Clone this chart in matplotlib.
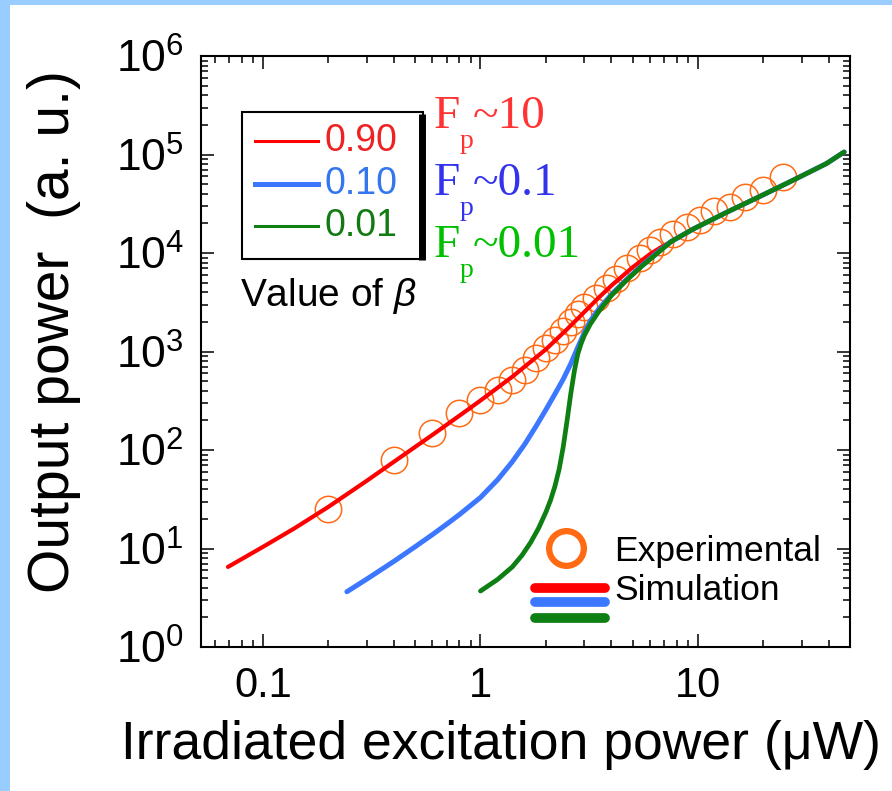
import matplotlib
matplotlib.use('Agg')
import matplotlib.pyplot as plt
from matplotlib.ticker import LogLocator, FixedLocator, FixedFormatter, NullFormatter
from matplotlib.patches import Rectangle

plt.rcParams['font.family'] = ['Liberation Sans', 'DejaVu Sans']
plt.rcParams['mathtext.fontset'] = 'custom'
plt.rcParams['mathtext.rm'] = 'Liberation Sans'
plt.rcParams['mathtext.it'] = 'Liberation Sans:italic'
plt.rcParams['mathtext.default'] = 'regular'

# ---------------- data ----------------
exp_x = [0.2, 0.4, 0.6, 0.8, 1.0, 1.2, 1.4, 1.6, 1.8, 2.0, 2.2, 2.4, 2.6, 2.8, 3.0,
         3.4, 3.8, 4.2, 4.7, 5.4, 6.0, 6.7, 7.7, 8.9, 10.2, 11.9, 14.0, 16.4, 19.9, 24.6]
exp_y = [25, 80, 148, 236, 320, 410, 515, 650, 850, 1080, 1300, 1600, 2000, 2400, 2800,
         3500, 4400, 5500, 7000, 9000, 10700, 13000, 15500, 18500, 21500, 27000, 29500,
         37000, 43500, 59000]

red_x = [0.069, 0.1, 0.14, 0.2, 0.3, 0.4, 0.6, 0.8, 1.0, 1.4, 2.0, 2.5, 3.0, 3.5,
         4.0, 5.0, 6.0, 6.7]
red_y = [6.5, 10.4, 16.1, 26.5, 48.7, 76, 142, 223, 318, 554, 1053, 1683, 2513, 3529,
         4673, 7141, 9700, 11300]

blue_x = [0.243, 0.3, 0.4, 0.5, 0.6, 0.7, 0.8, 1.0, 1.2, 1.4, 1.6, 1.8, 2.0, 2.2, 2.4,
          2.6, 2.8, 3.0, 3.2, 3.5, 4.0, 4.7, 5.5, 6.7]
blue_y = [3.64, 4.89, 7.41, 10.4, 13.8, 17.7, 22.1, 33, 50, 76, 115, 174, 257, 371, 523,
          750, 1100, 1550, 2050, 2700, 3800, 5400, 7400, 10700]

green_x = [1.0, 1.2, 1.4, 1.55, 1.7, 1.85, 2.0, 2.1, 2.2, 2.3, 2.4, 2.5, 2.6, 2.7, 2.8,
           2.9, 3.0, 3.2, 3.5, 4.0, 4.7, 5.5, 6.7]
green_y = [3.7, 4.86, 6.5, 8.5, 11.5, 16.1, 23.5, 31, 43, 64, 107, 198, 371, 630, 940,
           1200, 1450, 1900, 2550, 3700, 5300, 7300, 10500]

# high-power region where the three simulated curves coincide
merged_x = [7.5, 9.5, 13.6, 19, 27, 39, 47]
merged_y = [13000, 17500, 26000, 37000, 54000, 81000, 106000]

x_ticks = [0.1, 1, 10]
x_tick_labels = ['0.1', '1', '10']
y_ticks = [1e0, 1e1, 1e2, 1e3, 1e4, 1e5, 1e6]
y_tick_labels = [r'$10^{0}$', r'$10^{1}$', r'$10^{2}$', r'$10^{3}$',
                 r'$10^{4}$', r'$10^{5}$', r'$10^{6}$']

beta_labels = ['0.90', '0.10', '0.01']
fp_values = ['~10', '~0.1', '~0.01']

# ---------------- style ----------------
c_red = '#FF0000'
c_blue = '#3B78FF'
c_green = '#0E7F12'
c_orange = '#FF6A13'
beta_text_colors = ['#EE2222', '#3377EE', '#127A12']
fp_colors = ['#FF3333', '#3333EE', '#00C000']

W, H = 892, 791
fig = plt.figure(figsize=(W / 100, H / 100), dpi=100)
fig.patch.set_facecolor('#99CCFF')
fig.patches.append(Rectangle((10 / W, 0), 1 - 10 / W, 1 - 5 / H, transform=fig.transFigure,
                             facecolor='white', edgecolor='none', zorder=-10))

ax_l, ax_r, ax_t, ax_b = 200.7, 850, 56, 647
ax = fig.add_axes([ax_l / W, 1 - ax_b / H, (ax_r - ax_l) / W, (ax_b - ax_t) / H])
ax.set_zorder(5)
ax.set_facecolor('white')
ax.set_xscale('log')
ax.set_yscale('log')
ax.set_xlim(0.0517, 50)
ax.set_ylim(1, 1e6)

ax.plot(exp_x, exp_y, linestyle='none', marker='o', markersize=19, markerfacecolor='none',
        markeredgecolor=c_orange, markeredgewidth=1.1, zorder=2)
ax.plot(red_x + merged_x, red_y + merged_y, color=c_red, lw=3.0, zorder=3,
        solid_capstyle='round', solid_joinstyle='round')
ax.plot(blue_x + merged_x, blue_y + merged_y, color=c_blue, lw=3.6, zorder=4,
        solid_capstyle='round', solid_joinstyle='round')
ax.plot(green_x + merged_x, green_y + merged_y, color=c_green, lw=3.4, zorder=5,
        solid_capstyle='round', solid_joinstyle='round')

# ticks
ax.xaxis.set_major_locator(FixedLocator(x_ticks))
ax.xaxis.set_major_formatter(FixedFormatter(x_tick_labels))
ax.xaxis.set_minor_locator(LogLocator(base=10, subs=range(2, 10), numticks=20))
ax.xaxis.set_minor_formatter(NullFormatter())
ax.yaxis.set_major_locator(FixedLocator(y_ticks))
ax.yaxis.set_major_formatter(FixedFormatter(y_tick_labels))
ax.yaxis.set_minor_locator(LogLocator(base=10, subs=range(2, 10), numticks=20))
ax.yaxis.set_minor_formatter(NullFormatter())
ax.tick_params(which='both', direction='in', top=True, right=True, width=1.1, color='black')
ax.tick_params(which='major', length=9.4)
ax.tick_params(which='minor', length=5)
ax.tick_params(axis='x', which='major', labelsize=30, pad=14)
ax.tick_params(axis='y', which='major', labelsize=32, pad=12)
for s in ax.spines.values():
    s.set_linewidth(1.5)

# axis labels
fig.text(501 / W, 1 - 745 / H, 'Irradiated excitation power (\u03bcW)', fontsize=38.5,
         ha='center', va='center')
fig.text(54 / W, 1 - 332 / H, 'Output power  (a. u.)', fontsize=41, rotation=90,
         ha='center', va='center')

# ------------- beta legend box (pixel layout converted to axes fraction) -------------
def fx(px):
    return (px - ax_l) / (ax_r - ax_l)

def fy(py):
    return (ax_b - py) / (ax_b - ax_t)

box_l, box_r, box_t, box_b = 242, 423, 112, 259
box = Rectangle((fx(box_l), fy(box_b)), fx(box_r) - fx(box_l), fy(box_t) - fy(box_b),
                transform=ax.transAxes, facecolor='white', edgecolor='black', lw=1.5, zorder=6)
ax.add_patch(box)
ax.plot([fx(box_r - 1), fx(box_r - 1)], [fy(box_b + 1), fy(box_t + 2)], transform=ax.transAxes,
        color='black', lw=5, zorder=7, solid_capstyle='butt')

leg_rows = [141, 184, 226]
leg_colors = [c_red, c_blue, c_green]
leg_lw = [2.2, 3.6, 2.2]
for row, col, lw, lab, tc in zip(leg_rows, leg_colors, leg_lw, beta_labels, beta_text_colors):
    ax.plot([fx(255), fx(318)], [fy(row), fy(row)], transform=ax.transAxes, color=col, lw=lw,
            zorder=8)
    ax.text(fx(325), fy(row), lab, transform=ax.transAxes, fontsize=27, color=tc,
            ha='left', va='center', zorder=8)

ax.text(fx(240), fy(296), r'Value of $\it{\beta}$', transform=ax.transAxes, fontsize=28,
        color='black', ha='left', va='center', zorder=8)

# F_p annotations
fp_baselines = [128, 195, 257]
for base, val, col in zip(fp_baselines, fp_values, fp_colors):
    ax.text(fx(434), fy(base), 'F', transform=ax.transAxes, fontsize=34, color=col,
            family='Liberation Serif', ha='left', va='baseline', zorder=8)
    ax.text(fx(460), fy(base + 20), 'p', transform=ax.transAxes, fontsize=20, color=col,
            family='Liberation Serif', ha='left', va='baseline', zorder=8)
    ax.text(fx(473), fy(base), val, transform=ax.transAxes, fontsize=34, color=col,
            family='Liberation Serif', ha='left', va='baseline', zorder=8)

# ------------- experimental / simulation key -------------
ax.plot([fx(566)], [fy(548)], transform=ax.transAxes, marker='o', markersize=25,
        markerfacecolor='none', markeredgecolor=c_orange, markeredgewidth=4.5, zorder=8)
for row, col in zip([588, 602, 618], leg_colors):
    ax.plot([fx(535), fx(605)], [fy(row), fy(row)], transform=ax.transAxes, color=col, lw=7,
            solid_capstyle='round', zorder=8)
ax.text(fx(614), fy(552), 'Experimental', transform=ax.transAxes, fontsize=25.5, color='black',
        ha='left', va='center', zorder=8)
ax.text(fx(614), fy(590), 'Simulation', transform=ax.transAxes, fontsize=25.5, color='black',
        ha='left', va='center', zorder=8)

fig.savefig('out.png', dpi=100, facecolor=fig.get_facecolor())
